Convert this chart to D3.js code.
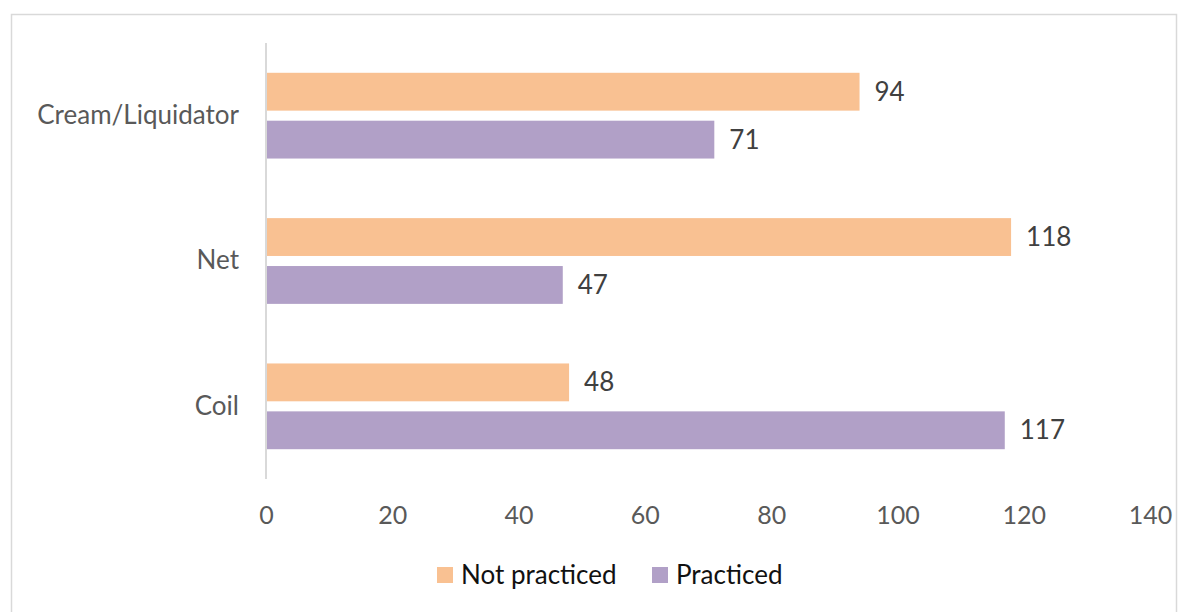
<!DOCTYPE html>
<html>
<head>
<meta charset="utf-8">
<script src="https://d3js.org/d3.v7.min.js"></script>
<style>
  body { margin: 0; background: #fff; }
  text { font-family: Lato, "Open Sans", sans-serif; }
</style>
</head>
<body>
<svg id="chart" width="1188" height="612"></svg>
<script>
// data
const categories = ["Cream/Liquidator", "Net", "Coil"];
const seriesNames = ["Not practiced", "Practiced"];
const notPracticed = [94, 118, 48];
const practiced = [71, 47, 117];
const xTicks = [0, 20, 40, 60, 80, 100, 120, 140];

const colors = { "Not practiced": "#F9C192", "Practiced": "#B1A0C7" };

const rows = categories.map((c, i) => ({
  cat: c,
  values: [
    { name: "Not practiced", value: notPracticed[i] },
    { name: "Practiced", value: practiced[i] }
  ]
}));

const svg = d3.select("#chart");

// outer border
svg.append("rect")
  .attr("x", 11.5).attr("y", 14.5)
  .attr("width", 1165).attr("height", 610)
  .attr("fill", "none").attr("stroke", "#d9d9d9").attr("stroke-width", 1.5);

const x = d3.scaleLinear().domain([0, 140]).range([266, 1150]);
const y = d3.scaleBand().domain(categories).range([43, 479])
  .paddingInner(0.41).paddingOuter(0.205);
const y2 = d3.scaleBand().domain(seriesNames).range([0, y.bandwidth()])
  .paddingInner(0.21);

// x axis labels
const xAxis = d3.axisBottom(x).tickValues(xTicks).tickSize(0).tickPadding(0);
const gx = svg.append("g").attr("transform", "translate(0,506)").call(xAxis);
gx.select(".domain").remove();
gx.selectAll("text")
  .attr("font-size", 25).attr("fill", "#595959")
  .style("font-family", "Lato, 'Open Sans', sans-serif");

// y axis
const yAxis = d3.axisLeft(y).tickSize(0).tickPadding(27);
const gy = svg.append("g").attr("transform", "translate(266,0)").call(yAxis);
gy.select(".domain").attr("stroke", "#d9d9d9").attr("stroke-width", 2)
  .attr("d", "M0,43V479");
gy.selectAll("text")
  .attr("font-size", 26).attr("fill", "#595959")
  .style("font-family", "Lato, 'Open Sans', sans-serif");

// bars
const groups = svg.selectAll(".grp").data(rows).enter().append("g")
  .attr("class", "grp")
  .attr("transform", d => "translate(0," + y(d.cat) + ")");

groups.selectAll("rect").data(d => d.values).enter().append("rect")
  .attr("x", x(0) + 1)
  .attr("y", d => y2(d.name))
  .attr("width", d => x(d.value) - x(0) - 1)
  .attr("height", y2.bandwidth())
  .attr("fill", d => colors[d.name]);

groups.selectAll(".lbl").data(d => d.values).enter().append("text")
  .attr("class", "lbl")
  .attr("x", d => x(d.value) + 15)
  .attr("y", d => y2(d.name) + y2.bandwidth() / 2)
  .attr("dy", "0.35em")
  .attr("font-size", 26).attr("fill", "#404040")
  .text(d => d.value);

// legend
const legendX = [437, 652];
const legend = svg.selectAll(".leg").data(seriesNames).enter().append("g")
  .attr("class", "leg")
  .attr("transform", (d, i) => "translate(" + legendX[i] + ",567)");
legend.append("rect").attr("width", 16).attr("height", 16)
  .attr("fill", d => colors[d]);
legend.append("text").attr("x", 24).attr("y", 8).attr("dy", "0.35em")
  .attr("font-size", 26).attr("fill", "#111")
  .text(d => d);
</script>
</body>
</html>
